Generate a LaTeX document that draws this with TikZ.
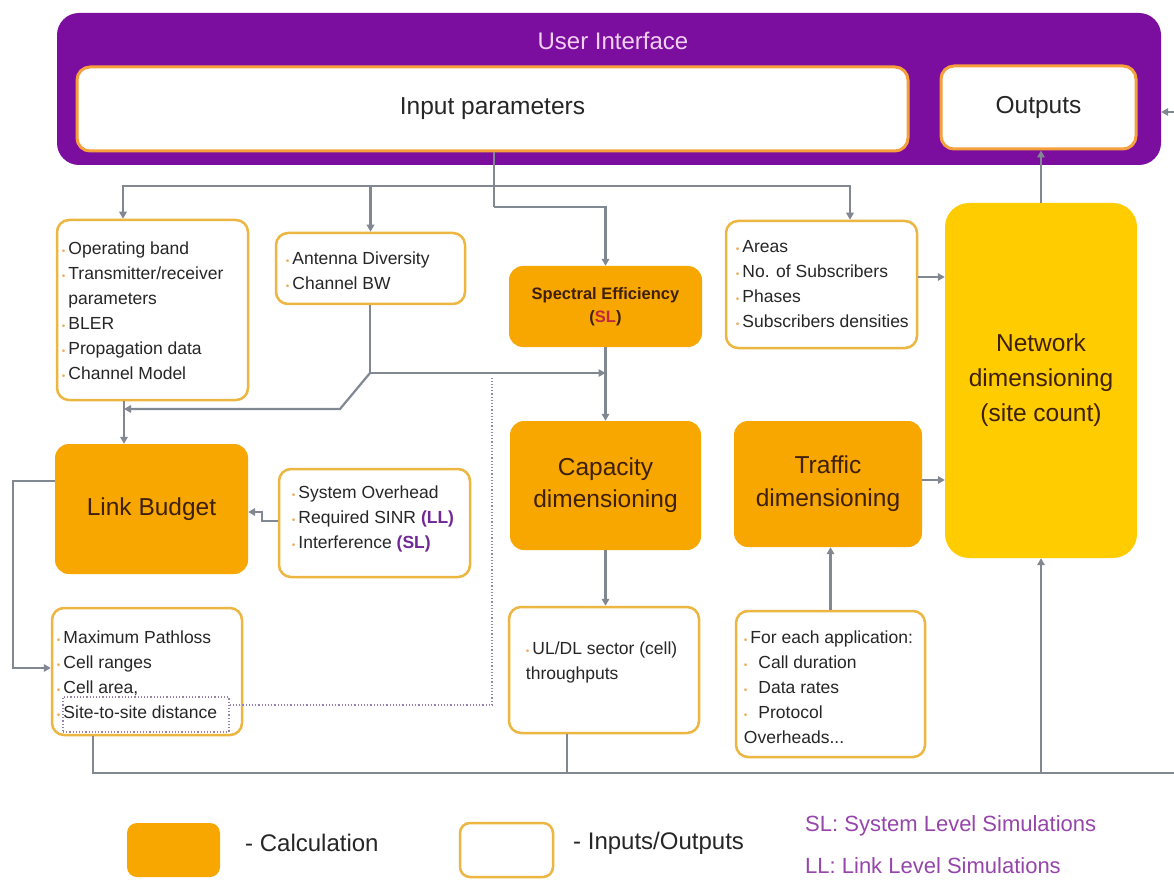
\documentclass[tikz,border=0pt]{standalone}
\usepackage{fontspec}
\setmainfont{Liberation Sans}
\usetikzlibrary{arrows.meta,calc}
\definecolor{uipurple}{RGB}{123,14,158}
\definecolor{uititle}{RGB}{242,208,242}
\definecolor{ipborder}{RGB}{245,160,60}
\definecolor{ioborder}{RGB}{236,182,64}
\definecolor{calcorange}{RGB}{248,166,0}
\definecolor{netyellow}{RGB}{255,204,0}
\definecolor{calctext}{RGB}{62,32,10}
\definecolor{intext}{RGB}{38,38,38}
\definecolor{bulcol}{RGB}{240,172,90}
\definecolor{lgray}{RGB}{130,136,146}
\definecolor{dotcol}{RGB}{150,130,175}
\definecolor{simpurple}{RGB}{112,40,150}
\definecolor{legpurple}{RGB}{150,70,170}
\definecolor{sered}{RGB}{190,40,60}
\newcommand\bul{{\fontsize{10}{10}\selectfont\textcolor{bulcol}{\textbullet}}\hspace{3pt}}
\newcommand\bulind{\phantom{\bul}}
\begin{document}
\begin{tikzpicture}[x=1pt,y=-1pt,
  ui/.style={fill=uipurple, rounded corners=22pt},
  ipbox/.style={fill=white, draw=ipborder, line width=3pt, rounded corners=13pt, text=intext, font=\fontsize{24.5}{28}\selectfont},
  iobox/.style={fill=white, draw=ioborder, line width=2.5pt, rounded corners=12pt},
  itext/.style={anchor=west, align=left, inner sep=0pt, text=intext, font=\fontsize{17.5}{25}\selectfont},
  calc/.style={fill=calcorange, rounded corners=14pt, text=calctext, align=center, font=\fontsize{24.5}{32}\selectfont},
  conn/.style={draw=lgray, line width=2.2pt},
  arr/.style={conn, -{Triangle[length=7pt,width=7.5pt]}},
  legtext/.style={anchor=west, inner sep=0pt, text=intext, font=\fontsize{24}{28}\selectfont},
  simtext/.style={anchor=west, inner sep=0pt, text=legpurple, font=\fontsize{22}{26}\selectfont},
]
\useasboundingbox (0,0) rectangle (1174,882);
\fill[white] (0,0) rectangle (1174,882);

% user interface
\node[ui, minimum width=1104pt, minimum height=152pt] (ui) at (609,89) {};
\node[text=uititle, font=\fontsize{24}{28}\selectfont] (uit) at (613,41) {User Interface};
\node[ipbox, minimum width=831pt, minimum height=84pt] (ip) at (492.5,109) {Input parameters};
\node[ipbox, minimum width=195pt, minimum height=83pt] (out) at (1038.5,107.5) {Outputs};

% inputs row
\node[iobox, minimum width=191pt, minimum height=180pt] (op) at (152.5,310) {};
\node[itext] (opt) at ($(op.west)+(6,1)$) {\bul Operating band\\ \bul Transmitter/receiver\\ \bulind parameters\\ \bul BLER\\ \bul Propagation data\\ \bul Channel Model};

\node[iobox, minimum width=189pt, minimum height=71pt] (an) at (370.5,268.5) {};
\node[itext] (ant) at ($(an.west)+(11,2)$) {\bul Antenna Diversity\\ \bul Channel BW};

\node[calc, minimum width=193pt, minimum height=81pt, font=\bfseries\fontsize{16.5}{23}\selectfont] (se) at (605.5,306.5) {Spectral Efficiency\\ (\textcolor{sered}{SL})};

\node[iobox, minimum width=191pt, minimum height=127pt] (ar) at (821.5,284.5) {};
\node[itext] (art) at ($(ar.west)+(11,0)$) {\bul Areas\\ \bul No. of Subscribers\\ \bul Phases\\ \bul Subscribers densities};

\node[calc, fill=netyellow, rounded corners=24pt, minimum width=192pt, minimum height=355pt, font=\fontsize{24.5}{35}\selectfont] (nd) at (1041,380.5) {Network\\ dimensioning\\ (site count)};

% calculation row
\node[calc, minimum width=193pt, minimum height=130pt] (lb) at (151.5,509) {Link Budget};
\node[iobox, minimum width=191pt, minimum height=108pt] (so) at (374.5,523) {};
\node[itext] (sot) at ($(so.west)+(14,-4)$) {\bul System Overhead\\ \bul Required SINR \textcolor{simpurple}{\textbf{(LL)}}\\ \bul Interference \textcolor{simpurple}{\textbf{(SL)}}};

\node[calc, minimum width=191pt, minimum height=129pt] (cap) at (605.5,485.5) {Capacity\\ dimensioning};
\node[calc, minimum width=188pt, minimum height=126pt, font=\fontsize{24.5}{33}\selectfont] (tr) at (828,484) {Traffic\\ dimensioning};

% outputs row
\node[iobox, minimum width=190pt, minimum height=127pt] (mp) at (147,671.5) {};
\node[itext] (mpt) at ($(mp.west)+(6,3)$) {\bul Maximum Pathloss\\ \bul Cell ranges\\ \bul Cell area,\\ \bul Site-to-site distance};
\node[draw=dotcol, dotted, line width=1.2pt, minimum width=166pt, minimum height=35pt, inner sep=0pt] (sts) at (146,714.5) {};

\node[iobox, minimum width=190pt, minimum height=126pt] (ul) at (604,670) {};
\node[itext] (ult) at ($(ul.west)+(18,-7.5)$) {\bul UL/DL sector (cell)\\throughputs};

\node[iobox, minimum width=189pt, minimum height=146pt] (ap) at (830.5,684) {};
\node[itext] (apt) at ($(ap.west)+(9,3)$) {\bul For each application:\\ \bul\hspace{8pt}Call duration\\ \bul\hspace{8pt}Data rates\\ \bul\hspace{8pt}Protocol\\ Overheads...};

% legend
\node[calc, minimum width=93pt, minimum height=54pt, rounded corners=10pt] (lgc) at (173.5,850) {};
\node[iobox, minimum width=93pt, minimum height=54pt, rounded corners=10pt] (lgi) at (506.5,850) {};
\node[legtext] (lgct) at (245,843) {- Calculation};
\node[legtext] (lgit) at (573,843) {- Inputs/Outputs};
\node[simtext] (lsl) at (805,826) {SL: System Level Simulations};
\node[simtext] (lll) at (805,866) {LL: Link Level Simulations};

% connectors
\coordinate (j1) at (494,186);
\coordinate (j1b) at (494,207);
\draw[conn] (ip.south -| j1) -- (j1b);
\draw[arr] (j1) -- (123,186) -- (op.north -| 123,0);
\draw[arr] (j1) -- (850,186) -- (ar.north -| 850,0);
\draw[arr] (an.north |- j1) -- (an.north);
\draw[arr] (j1b) -- (se.north |- j1b) -- (se.north);

\coordinate (j2) at (370,373);
\draw[conn] (an.south -| j2) -- (j2);
\draw[arr] (j2) -- (se.south |- j2);
\draw[arr] (j2) -- (340,409) -- (124,409);
\draw[arr] (op.south -| 124,0) -- (lb.north -| 124,0);
\draw[arr] (se.south) -- (cap.north);
\draw[arr] (so.west |- 0,521) -- (262,521) -- (262,512) -- (lb.east |- 0,512);
\draw[arr] (lb.west |- 0,481) -- (13,481) -- (13,668) -- (mp.west |- 0,668);
\draw[dotcol, dotted, line width=1.2pt] (sts.east |- 0,705) -- (492,705) -- (492,378);

\draw[arr] (cap.south) -- (cap.south |- ul.north);
\draw[arr] (ap.north) -- (ap.north |- tr.south);
\draw[arr] (tr.east |- 0,480) -- (nd.west |- 0,480);
\draw[arr] (ar.east |- 0,277) -- (nd.west |- 0,277);
\draw[arr] (nd.north) -- (nd.north |- out.south);
\coordinate (busr) at (1174,773);
\draw[conn] (mp.south -| 93,0) -- (93,773) -- (busr);
\draw[conn] (ul.south -| 567,0) -- (567,773);
\draw[arr] (nd.south |- busr) -- (nd.south);
\coordinate (uiin) at (1174,112);
\draw[arr] (uiin) -- (ui.east |- uiin);
\end{tikzpicture}
\end{document}
